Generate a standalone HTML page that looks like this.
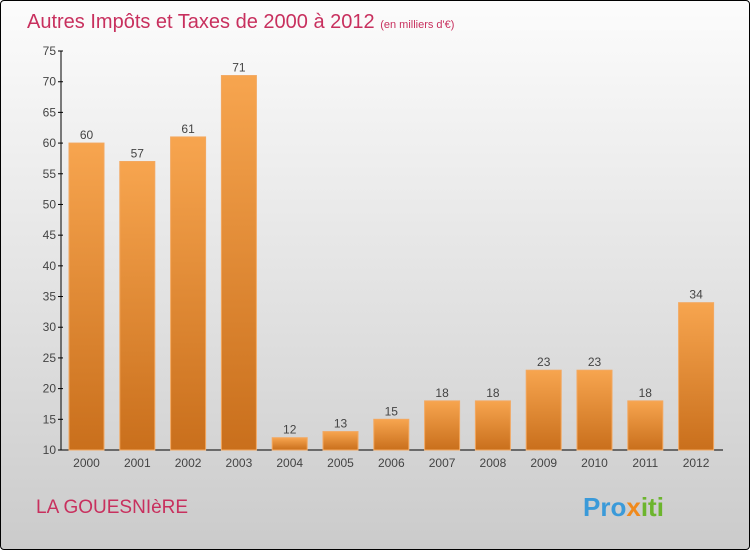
<!DOCTYPE html>
<html><head><meta charset="utf-8"><style>
body{margin:0;}
#c{position:relative;width:748px;height:548px;border:1px solid #000;border-radius:4px;background:linear-gradient(#fcfcfc,#e4e4e4 50%,#cbcbcb);overflow:hidden;font-family:"Liberation Sans",sans-serif;}
</style></head><body>
<div id="c">
<svg width="748" height="548" id="s">
<defs><linearGradient id="g" x1="0" y1="0" x2="0" y2="1"><stop offset="0" stop-color="#f7a54f"/><stop offset="1" stop-color="#c96f1c"/></linearGradient></defs>
<text x="26" y="27" font-size="20" fill="#c8305e">Autres Impôts et Taxes de 2000 à 2012 <tspan font-size="11">(en milliers d'€)</tspan></text>
<text x="35" y="512" font-size="19" fill="#c8305e">LA GOUESNIèRE</text>
<text x="582" y="515" font-size="26" font-weight="bold"><tspan fill="#3a9ad9">Pro</tspan><tspan fill="#f08a1c">x</tspan><tspan fill="#6cb52d">iti</tspan></text>
<g id="ax"></g><g id="bars"></g>
</svg>
</div>
<script>
const years=["2000","2001","2002","2003","2004","2005","2006","2007","2008","2009","2010","2011","2012"];
const values=[60,57,61,71,12,13,15,18,18,23,23,18,34];
const ticks=[10,15,20,25,30,35,40,45,50,55,60,65,70,75];
const NS="http://www.w3.org/2000/svg";
const y0=449,ymin=10,ymax=75,ytop=50;
function Y(v){return y0-(v-ymin)*(y0-ytop)/(ymax-ymin);}
function X(i){return 85.5+i*50.8;}
function mk(t,a,p){const e=document.createElementNS(NS,t);for(const k in a)e.setAttribute(k,a[k]);p.appendChild(e);return e;}
const ax=document.getElementById('ax'),bars=document.getElementById('bars');
let l=mk('line',{x1:60,y1:ytop,x2:60,y2:y0,stroke:'#000'},ax);


l=mk('line',{x1:60,y1:y0,x2:722,y2:y0,stroke:'#000'},ax);


ticks.forEach(v=>{
 mk('line',{x1:57,x2:62,y1:Y(v),y2:Y(v),stroke:'#000'},ax);
 const t=mk('text',{x:55,y:Y(v)+4,'text-anchor':'end','font-size':12,fill:'#444'},ax);
 t.textContent=v;
 
 
});
values.forEach((v,i)=>{
 const r=mk('rect',{x:X(i)-17.5,y:Y(v),width:35,height:y0-Y(v),fill:'url(#g)',stroke:'#f3a860','stroke-width':1},bars);
 
 
 const t=mk('text',{x:X(i),y:Y(v)-4,'text-anchor':'middle','font-size':12,fill:'#444'},bars);
 t.textContent=v;
 
 
 const xl=mk('text',{x:X(i),y:466,'text-anchor':'middle','font-size':12,fill:'#444'},bars);
 xl.textContent=years[i];
 
 
});
</script>
</body></html>
